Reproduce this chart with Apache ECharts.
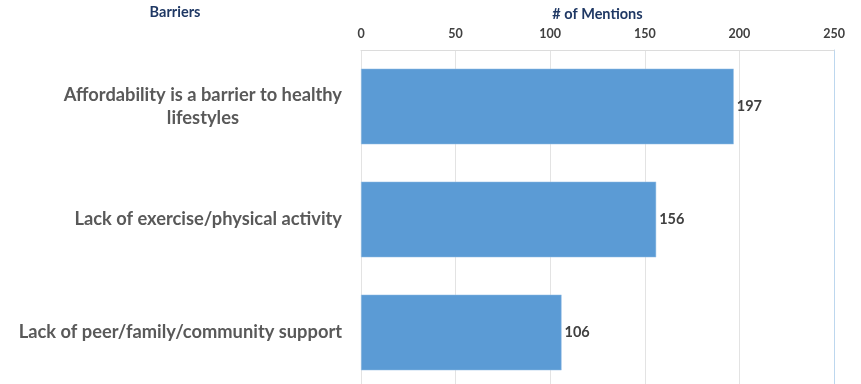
<!DOCTYPE html>
<html>
<head>
<meta charset="utf-8">
<script src="https://cdn.jsdelivr.net/npm/echarts@6/dist/echarts.min.js"></script>
<style>
html,body{margin:0;padding:0;background:#fff;}
#chart{width:861px;height:384px;}
</style>
</head>
<body>
<div id="chart"></div>
<script>
const categories = [
  'Affordability is a barrier to healthy\nlifestyles',
  'Lack of exercise/physical activity',
  'Lack of peer/family/community support'
];
const mentions = [197, 156, 106];
const xTicks = { min: 0, max: 250, interval: 50 };
const titleText = 'Barriers';
const axisName = '# of Mentions';

const FONT = 'Lato';
const chart = echarts.init(document.getElementById('chart'));
chart.setOption({
  animation: false,
  backgroundColor: '#ffffff',
  title: {
    text: titleText,
    left: 170, top: 0,
    textAlign: 'center',
    textStyle: { fontFamily: FONT, fontSize: 14.5, fontWeight: 'bold', color: '#1f3864' }
  },
  grid: { left: 361, right: 27, top: 50, height: 339, containLabel: false, outerBoundsMode: 'none' },
  xAxis: {
    type: 'value', position: 'top',
    min: xTicks.min, max: xTicks.max, interval: xTicks.interval,
    name: axisName, nameLocation: 'middle', nameGap: 28, nameMoveOverlap: false,
    nameTextStyle: { fontFamily: FONT, fontSize: 14.5, fontWeight: 'bold', color: '#1f3864' },
    axisLine: { show: true, lineStyle: { color: '#dcdcdc' } },
    axisTick: { show: false },
    axisLabel: { margin: 10, fontFamily: FONT, fontSize: 12.5, fontWeight: 'bold', color: '#404040' },
    splitLine: { show: true, lineStyle: { color: '#e3e3e3', width: 1 } }
  },
  yAxis: [{
    type: 'category', data: categories, inverse: true,
    axisLine: { show: false }, axisTick: { show: false },
    axisLabel: {
      margin: 19,
      formatter: function (v) {
        return v.split('\n').map(function (s) { return '{c|' + s + '}'; }).join('\n');
      },
      rich: {
        c: { align: 'center', fontFamily: FONT, fontSize: 18.3, fontWeight: 'bold', color: '#595959', lineHeight: 23 }
      }
    }
  }, {
    type: 'category', data: categories, inverse: true, position: 'right',
    axisLine: { show: true, lineStyle: { color: '#bdd7ee' } },
    axisTick: { show: false }, axisLabel: { show: false }
  }],
  series: [{
    type: 'bar', data: mentions, barCategoryGap: '33%',
    itemStyle: { color: '#5b9bd5', borderColor: '#9dc3e6', borderWidth: 0.5 },
    label: {
      show: true, position: 'right', distance: 3,
      fontFamily: FONT, fontSize: 14.5, fontWeight: 'bold', color: '#404040'
    }
  }]
});
</script>
</body>
</html>
